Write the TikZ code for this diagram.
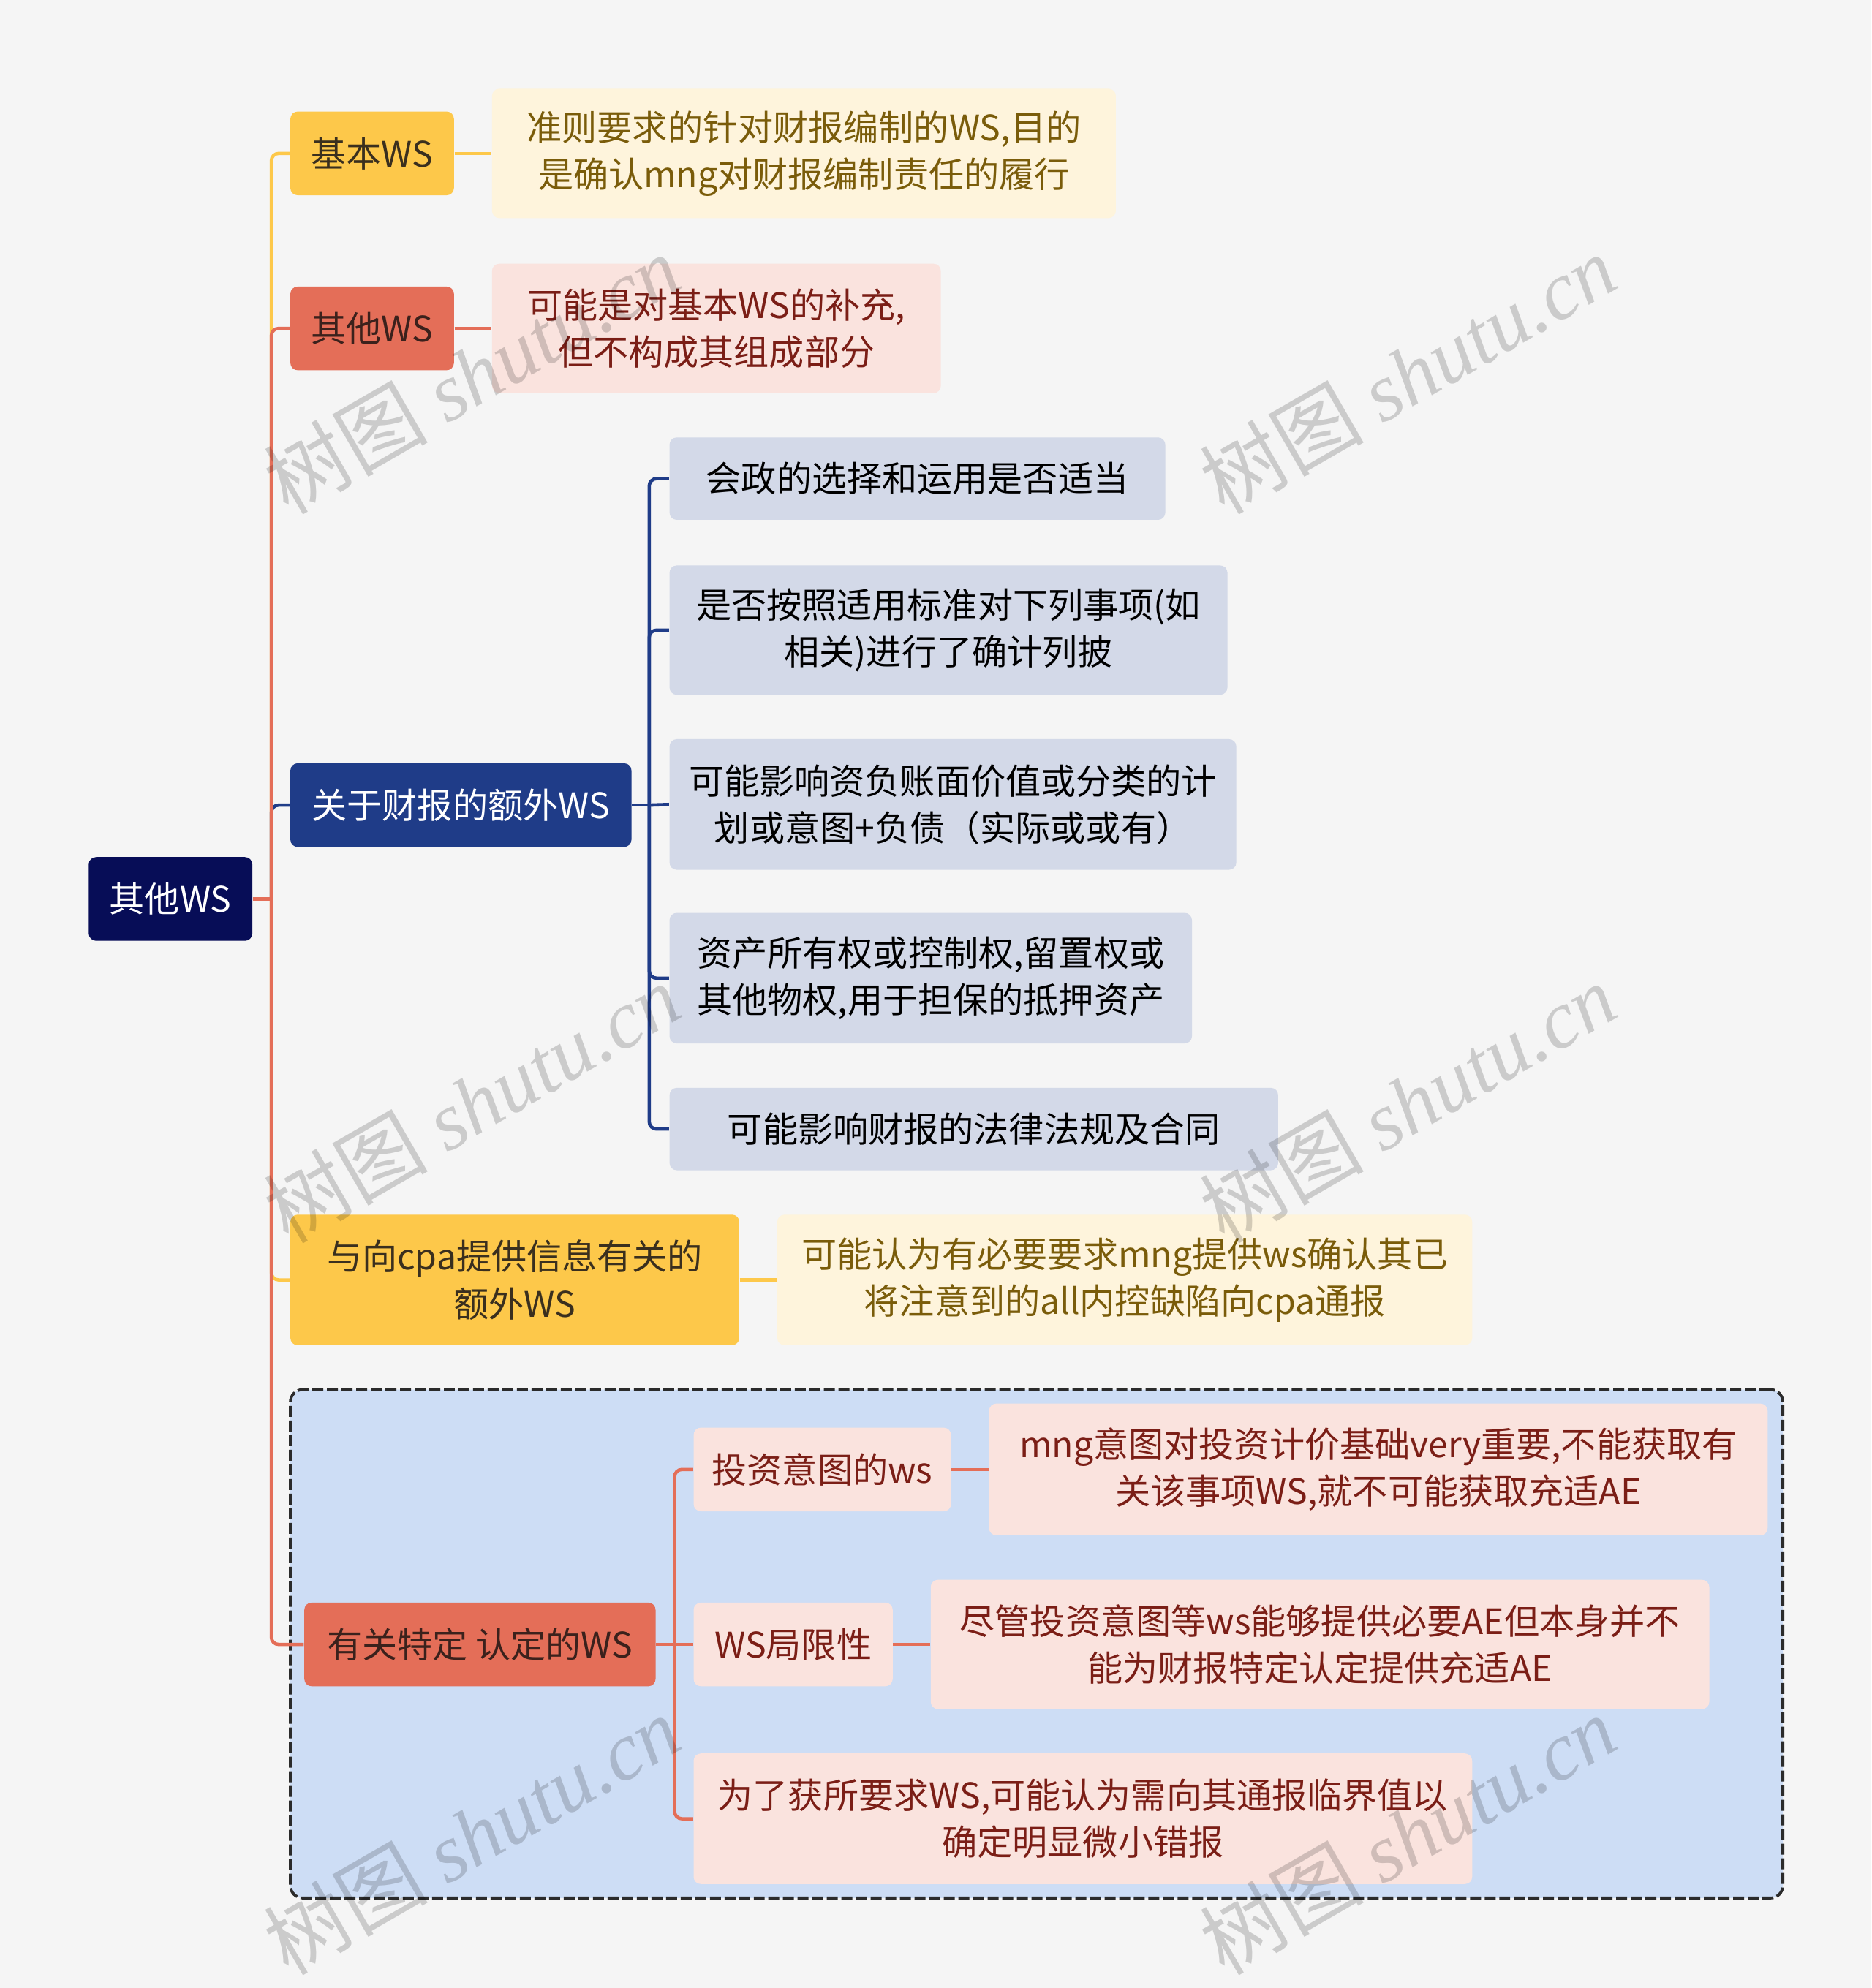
\documentclass[tikz,border=0pt]{standalone}
\usepackage{fontspec}
\setmainfont{Noto Sans CJK SC}
\newfontfamily\wmserif{Liberation Serif}
\newfontfamily\wmcjk{Noto Sans CJK SC}
\def\dpx{0.017344cm}
\definecolor{bgc}{HTML}{F5F5F5}
\definecolor{rootc}{HTML}{070D57}
\definecolor{navyc}{HTML}{1F3C88}
\definecolor{yelc}{HTML}{FDC84A}
\definecolor{yellt}{HTML}{FEF4DC}
\definecolor{yeltxtc}{HTML}{7A5C0A}
\definecolor{yelboxtxt}{HTML}{3A2F1E}
\definecolor{redc}{HTML}{E46E58}
\definecolor{pinkc}{HTML}{FAE3DE}
\definecolor{pinktxt}{HTML}{7B1E16}
\definecolor{redboxtxt}{HTML}{3B211C}
\definecolor{bluec}{HTML}{D3D9E8}
\definecolor{grpfill}{HTML}{CDDDF5}
\definecolor{grpdraw}{HTML}{2B2B2B}
\newcommand\bnode[7]{\node[#6,minimum width={(#4-#2)*\dpx},minimum height={(#5-#3)*\dpx}] (#1) at ({(#2+#4)/2},{(#3+#5)/2}) {#7};}
\begin{document}
\begin{tikzpicture}[x=0.017344cm,y=-0.017344cm,
  base/.style={rectangle,rounded corners=0.1cm,inner sep=0pt,align=center,font=\fontsize{13.7}{18.3}\selectfont},
  rootbox/.style={base,fill=rootc,text=white},
  navybox/.style={base,fill=navyc,text=white},
  yelbox/.style={base,fill=yelc,text=yelboxtxt},
  yeltxt/.style={base,fill=yellt,text=yeltxtc},
  redbox/.style={base,fill=redc,text=redboxtxt},
  redtxt/.style={base,fill=pinkc,text=pinktxt},
  bluebox/.style={base,fill=bluec,text=black},
  grpbox/.style={rectangle,rounded corners=0.17cm,inner sep=0pt,fill=grpfill,draw=grpdraw,line width=1.1pt,dash pattern=on 0.15cm off 0.05cm},
  conn/.style={line width=1.3pt,rounded corners=0.1cm},
  yl/.style={conn,draw=yelc},
  rd/.style={conn,draw=redc},
  nv/.style={conn,draw=navyc},
  wm/.style={rotate=30,text=black,text opacity=0.17,font=\wmcjk\fontsize{32}{32}\selectfont,inner sep=0pt}
]
\fill[bgc] (0,0) rectangle (1476,1568);
\useasboundingbox (0,0) rectangle (1476,1568);

% group background
\bnode{grp}{229}{1096}{1406}{1497}{grpbox}{}

% nodes
\bnode{root}{70}{676}{199}{742}{rootbox}{其他WS}
\bnode{n1}{229}{88}{358}{154}{yelbox}{基本WS}
\bnode{t1}{388}{70}{880}{172}{yeltxt}{准则要求的针对财报编制的WS,目的\\是确认mng对财报编制责任的履行}
\bnode{n2}{229}{226}{358}{292}{redbox}{其他WS}
\bnode{t2}{388}{208}{742}{310}{redtxt}{可能是对基本WS的补充,\\但不构成其组成部分}
\bnode{n3}{229}{602}{498}{668}{navybox}{关于财报的额外WS}
\bnode{c1}{528}{345}{919}{410}{bluebox}{会政的选择和运用是否适当}
\bnode{c2}{528}{446}{968}{548}{bluebox}{是否按照适用标准对下列事项(如\\相关)进行了确计列披}
\bnode{c3}{528}{583}{975}{686}{bluebox}{可能影响资负账面价值或分类的计\\划或意图+负债（实际或或有）}
\bnode{c4}{528}{720}{940}{823}{bluebox}{资产所有权或控制权,留置权或\\其他物权,用于担保的抵押资产}
\bnode{c5}{528}{858}{1008}{923}{bluebox}{可能影响财报的法律法规及合同}
\bnode{n4}{229}{958}{583}{1061}{yelbox}{与向cpa提供信息有关的\\额外WS}
\bnode{t4}{613}{958}{1161}{1061}{yeltxt}{可能认为有必要要求mng提供ws确认其已\\将注意到的all内控缺陷向cpa通报}
\bnode{n5}{240}{1264}{517}{1330}{redbox}{有关特定 认定的WS}
\bnode{d1}{547}{1126}{750}{1192}{redtxt}{投资意图的ws}
\bnode{e1}{780}{1107}{1394}{1211}{redtxt}{mng意图对投资计价基础very重要,不能获取有\\关该事项WS,就不可能获取充适AE}
\bnode{d2}{547}{1264}{704}{1330}{redtxt}{WS局限性}
\bnode{e2}{734}{1246}{1348}{1348}{redtxt}{尽管投资意图等ws能够提供必要AE但本身并不\\能为财报特定认定提供充适AE}
\bnode{d3}{547}{1383}{1161}{1486}{redtxt}{为了获所要求WS,可能认为需向其通报临界值以\\确定明显微小错报}

% junctions
\coordinate (J) at (214,709);
\coordinate (J2) at (512,635);
\coordinate (J3) at (532,1297);

% root branches
\draw[yl] (J) |- (n1.west);
\draw[nv] (J) |- (n3.west);
\draw[yl] (J) |- (n4.west);
\draw[rd] (J) |- (n2.west);
\draw[rd] (J) |- (n5.west);
\draw[rd] (root.east) -- (J);

% leaf links
\draw[yl] (n1.east) -- (t1.west);
\draw[rd] (n2.east) -- (t2.west);
\draw[yl] (n4.east) -- (t4.west);

% navy group
\draw[nv] (n3.east) -- (J2);
\draw[nv] (J2) |- (c1.west);
\draw[nv] (J2) |- (c2.west);
\draw[nv] (J2) -- (c3.west);
\draw[nv] (J2) |- (c4.west);
\draw[nv] (J2) |- (c5.west);

% red group
\draw[rd] (n5.east) -- (J3);
\draw[rd] (J3) |- (d1.west);
\draw[rd] (J3) -- (d2.west);
\draw[rd] (J3) |- (d3.west);
\draw[rd] (d1.east) -- (e1.west);
\draw[rd] (d2.east) -- (e2.west);

% watermarks
\foreach \wx/\wy [count=\i] in {372/295,1110/295,372/870,1110/870,372/1447,1110/1447}
  \node[wm] (wm\i) at (\wx,\wy) {树图 {\wmserif\itshape shutu.cn}};
\end{tikzpicture}
\end{document}
